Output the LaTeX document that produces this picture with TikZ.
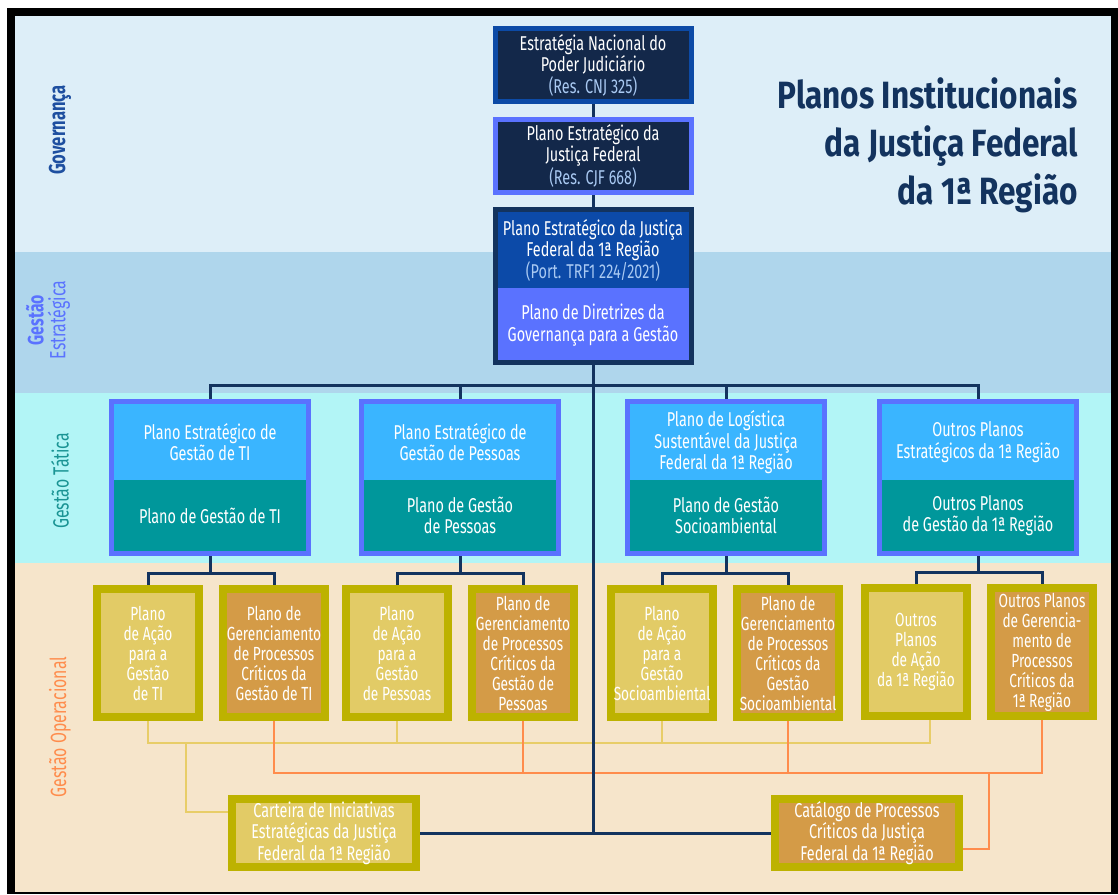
\documentclass[tikz,border=0pt]{standalone}
\usepackage{fontspec}
\setmainfont[FakeStretch=0.72]{Fira Sans}
\newfontfamily\titlefont[FakeStretch=0.83]{Fira Sans}

\definecolor{bandGov}{HTML}{DDEEF8}
\definecolor{bandStr}{HTML}{AFD6EC}
\definecolor{bandTac}{HTML}{B2F5F6}
\definecolor{bandOp}{HTML}{F6E5CB}
\definecolor{navyFill}{HTML}{13284A}
\definecolor{navyLine}{HTML}{13335E}
\definecolor{blueLine}{HTML}{0C4AA6}
\definecolor{blueMid}{HTML}{0C4AA8}
\definecolor{periwinkle}{HTML}{5A72FF}
\definecolor{resBlue}{HTML}{A9C9F2}
\definecolor{tacTopFill}{HTML}{3AB5FF}
\definecolor{tacBotFill}{HTML}{00979B}
\definecolor{opLine}{HTML}{BDB200}
\definecolor{acaoFill}{HTML}{E2CB66}
\definecolor{gerFill}{HTML}{D49B47}
\definecolor{yLine}{HTML}{E8CD68}
\definecolor{oLine}{HTML}{FF8C4C}
\definecolor{labGov}{HTML}{1E4FA0}
\definecolor{labTac}{HTML}{1A9494}

\begin{document}
\begin{tikzpicture}[x=1pt,y=-1pt,
  every node/.style={inner sep=0pt, align=center, text=white,
    font=\fontsize{20}{21.5}\selectfont},
  govbox/.style={draw, line width=5pt, fill=navyFill,
    minimum width=196pt, minimum height=73pt},
  tacbox/.style={draw=periwinkle, line width=5pt, fill=tacBotFill,
    minimum width=197pt, minimum height=152pt},
  tactop/.style={fill=tacTopFill, minimum width=192pt, minimum height=76pt, anchor=north},
  opbox/.style={draw=opLine, line width=8pt, minimum width=102pt, minimum height=128pt,
    font=\fontsize{19}{20}\selectfont},
  acao/.style={opbox, fill=acaoFill},
  gerenc/.style={opbox, fill=gerFill},
  sidelabel/.style={rotate=90, font=\fontsize{22}{22}\selectfont},
  navyline/.style={draw=navyLine, line width=3pt},
  yline/.style={draw=yLine, line width=2.5pt},
  oline/.style={draw=oLine, line width=2.5pt}]

  \useasboundingbox (0,0) rectangle (1118,894);

  % frame and bands
  \fill[black] (7,8) rectangle (1118,894);
  \fill[bandGov] (15,16) rectangle (1111,252);
  \fill[bandStr] (15,252) rectangle (1111,393);
  \fill[bandTac] (15,393) rectangle (1111,563);
  \fill[bandOp] (15,563) rectangle (1111,892);

  % level labels
  \node[sidelabel, text=labGov, font=\fontsize{23}{23}\selectfont\bfseries] (lgov) at (60,130) {Governança};
  \node[sidelabel, text=periwinkle] (lstr) at (48,320) {\textbf{Gestão}\\Estratégica};
  \node[sidelabel, text=labTac] (ltac) at (60,481) {Gestão Tática};
  \node[sidelabel, text=oLine] (lop) at (60,727) {Gestão Operacional};

  % title
  \node[anchor=north east, align=right, text=navyLine,
    font=\titlefont\fontsize{38}{48}\selectfont\bfseries] (title) at (1078,77)
    {Planos Institucionais\\da Justiça Federal\\da 1ª Região};

  % governance boxes
  \node[govbox, draw=blueLine] (g1) at (593,65)
    {Estratégia Nacional do\\Poder Judiciário\\\textcolor{resBlue}{(Res. CNJ 325)}};
  \node[govbox, draw=periwinkle] (g2) at (593,156)
    {Plano Estratégico da\\Justiça Federal\\\textcolor{resBlue}{(Res. CJF 668)}};
  \node[govbox, draw=navyLine, fill=periwinkle, minimum height=153pt] (g3) at (593,286) {};
  \node[tactop, fill=blueMid, minimum width=191pt] (g3a) at ([yshift=-5pt]g3.north)
    {Plano Estratégico da Justiça\\Federal da 1ª Região\\\textcolor{resBlue}{(Port. TRF1 224/2021)}};
  \node (g3b) at (593,325) {Plano de Diretrizes da\\Governança para a Gestão};

  % tactical boxes
  \node[tacbox] (tA) at (210,477.5) {};
  \node[tactop] (tA1) at ([yshift=-5pt]tA.north) {Plano Estratégico de\\Gestão de TI};
  \node (tA2) at (210,515.5) {Plano de Gestão de TI};
  \node[tacbox] (tB) at (460,477.5) {};
  \node[tactop] (tB1) at ([yshift=-5pt]tB.north) {Plano Estratégico de\\Gestão de Pessoas};
  \node (tB2) at (460,515.5) {Plano de Gestão\\de Pessoas};
  \node[tacbox] (tC) at (726,477.5) {};
  \node[tactop] (tC1) at ([yshift=-5pt]tC.north) {Plano de Logística\\Sustentável da Justiça\\Federal da 1ª Região};
  \node (tC2) at (726,515.5) {Plano de Gestão\\Socioambiental};
  \node[tacbox] (tD) at (978,477.5) {};
  \node[tactop] (tD1) at ([yshift=-5pt]tD.north) {Outros Planos\\Estratégicos da 1ª Região};
  \node (tD2) at (978,515.5) {Outros Planos\\de Gestão da 1ª Região};

  % operational boxes
  \node[acao] (o1) at (148,653) {Plano\\de Ação\\para a\\Gestão\\de TI};
  \node[gerenc] (o2) at (274,653) {Plano de\\Gerenciamento\\de Processos\\Críticos da\\Gestão de TI};
  \node[acao] (o3) at (397,653) {Plano\\de Ação\\para a\\Gestão\\de Pessoas};
  \node[gerenc] (o4) at (523,653) {Plano de\\Gerenciamento\\de Processos\\Críticos da\\Gestão de\\Pessoas};
  \node[acao] (o5) at (662,653) {Plano\\de Ação\\para a\\Gestão\\Socioambiental};
  \node[gerenc] (o6) at (788,653) {Plano de\\Gerenciamento\\de Processos\\Críticos da\\Gestão\\Socioambiental};
  \node[acao] (o7) at (916,652) {Outros\\Planos\\de Ação\\da 1ª Região};
  \node[gerenc] (o8) at (1042,652) {Outros Planos\\de Gerencia-\\mento de\\Processos\\Críticos da\\1ª Região};

  \node[acao, minimum width=184pt, minimum height=68pt, font=\fontsize{20}{21.5}\selectfont] (car) at (324,833)
    {Carteira de Iniciativas\\Estratégicas da Justiça\\Federal da 1ª Região};
  \node[gerenc, minimum width=184pt, minimum height=68pt, font=\fontsize{20}{21.5}\selectfont] (cat) at (867,833)
    {Catálogo de Processos\\Críticos da Justiça\\Federal da 1ª Região};

  % yellow and orange links
  \coordinate (yj) at (186,743);
  \coordinate (oj) at (989,773);
  \draw[yline] (o1.south) -- ++(0,22) -| ([xshift=14pt]o7.south);
  \draw[yline] (o3.south) -- ++(0,22);
  \draw[yline] (o5.south) -- ++(0,22);
  \draw[yline] (yj) |- ([yshift=21pt]car.west);
  \draw[oline] (o2.south) -- ++(0,52) -| (o8.south);
  \draw[oline] (o4.south) -- ++(0,52);
  \draw[oline] (o6.south) -- ++(0,52);
  \draw[oline] (oj) |- ([yshift=-16pt]cat.east);

  % navy tree
  \coordinate (bus) at (593,385);
  \draw[navyline] (g1.south) -- (g2.north);
  \draw[navyline] (g2.south) -- (g3.north);
  \draw[navyline] (g3.south) -- (g3.south |- car.east);
  \draw[navyline] (car.east) -- (cat.west);
  \draw[navyline] (tA.north) |- (bus) -| (tD.north);
  \draw[navyline] (tB.north) -- (tB.north |- bus);
  \draw[navyline] (tC.north) -- (tC.north |- bus);
  \draw[navyline] (tA.south) -- ++(0,17);
  \draw[navyline] (o1.north) -- ++(0,-12) -| (o2.north);
  \draw[navyline] (tB.south) -- ++(0,17);
  \draw[navyline] (o3.north) -- ++(0,-12) -| (o4.north);
  \draw[navyline] (tC.south) -- ++(0,17);
  \draw[navyline] (o5.north) -- ++(0,-12) -| (o6.north);
  \draw[navyline] (tD.south) -- ++(0,17);
  \draw[navyline] (o7.north) -- ++(0,-12) -| (o8.north);

\end{tikzpicture}
\end{document}
